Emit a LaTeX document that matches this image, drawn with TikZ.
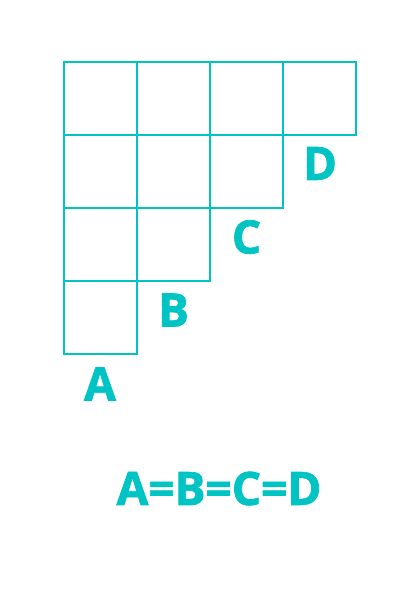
\documentclass[tikz,border=0pt]{standalone}
\usepackage{fontspec}
\setmainfont{Open Sans}
\newfontfamily\heavy{Open Sans}[BoldFeatures={FakeBold=1.6}]
\definecolor{teal1}{RGB}{0,196,196}
\begin{document}
\begin{tikzpicture}[x=1pt,y=-1pt,
  cell/.style={draw=teal1,line width=2.4pt},
  lab/.style={text=teal1,font=\heavy\fontsize{46}{50}\selectfont\bfseries,inner sep=0pt,anchor=center}]
\useasboundingbox (0,0) rectangle (420,594);
\foreach \c/\r in {0/0,1/0,2/0,3/0,0/1,1/1,2/1,0/2,1/2,0/3}{
  \draw[cell] ({64+73*\c},{62+73*\r}) rectangle ++(73,73);
}
\node[lab] (D) at (320,163.5) {D};
\node[lab] (C) at (246.5,237) {C};
\node[lab] (B) at (173.5,310) {B};
\node[lab] (A) at (100,384) {A};
\node[lab] (eq) at (219,488.5) {A=B=C=D};
\end{tikzpicture}
\end{document}
